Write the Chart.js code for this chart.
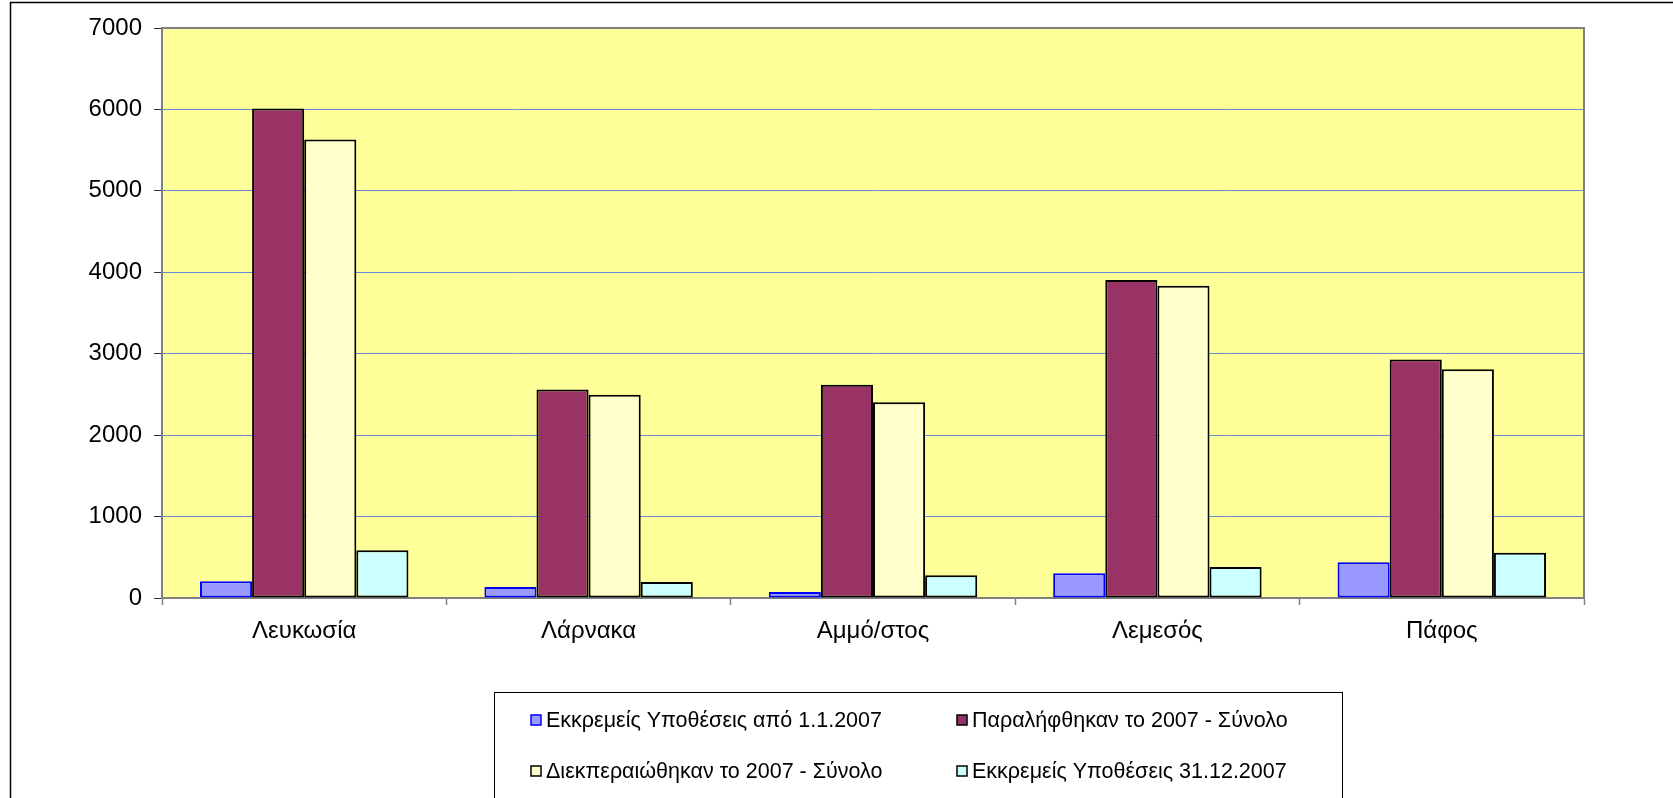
<!DOCTYPE html>
<html>
<head>
<meta charset="utf-8">
<script src="https://cdn.jsdelivr.net/npm/chart.js@4"></script>
<style>
  body { margin: 0; background: #fff; }
</style>
</head>
<body>
<canvas id="myChart" width="1673" height="798"></canvas>
<script>
// Κατηγορίες (επαρχίες)
const categories = ['Λευκωσία', 'Λάρνακα', 'Αμμό/στος', 'Λεμεσός', 'Πάφος'];

// Σειρές δεδομένων
const seriesNames = [
    'Εκκρεμείς Υποθέσεις από 1.1.2007',
    'Παραλήφθηκαν το 2007 - Σύνολο',
    'Διεκπεραιώθηκαν το 2007 - Σύνολο',
    'Εκκρεμείς Υποθέσεις 31.12.2007'
];
const pendingStart = [205, 135, 75, 305, 440];
const received = [6010, 2560, 2620, 3905, 2930];
const completed = [5630, 2495, 2405, 3835, 2810];
const pendingEnd = [585, 195, 280, 380, 555];

const FONT = "'Liberation Sans', Arial, sans-serif";

// Κίτρινο φόντο στην περιοχή σχεδίασης + πλαίσια
const plotBackground = {
    id: 'plotBackground',
    beforeDraw(chart) {
        const { ctx, chartArea: a } = chart;
        ctx.save();
        ctx.fillStyle = '#FFFF99';
        ctx.fillRect(a.left, a.top, a.right - a.left, a.bottom - a.top);
        ctx.restore();
    },
    afterDraw(chart) {
        const { ctx, chartArea: a } = chart;
        ctx.save();
        // γκρι περίγραμμα πάνω / δεξιά
        ctx.strokeStyle = '#808080';
        ctx.lineWidth = 2;
        ctx.beginPath();
        ctx.moveTo(a.left, a.top);
        ctx.lineTo(a.right, a.top);
        ctx.lineTo(a.right, a.bottom);
        ctx.stroke();
        // εξωτερικό πλαίσιο
        ctx.strokeStyle = '#000';
        ctx.lineWidth = 1.5;
        ctx.strokeRect(10.5, 2.5, chart.width + 20, chart.height + 20);
        ctx.restore();
    }
};

// Υπόμνημα σε δύο στήλες μέσα σε πλαίσιο
const boxLegend = {
    id: 'boxLegend',
    afterDraw(chart) {
        const { ctx } = chart;
        ctx.save();
        ctx.strokeStyle = '#000';
        ctx.lineWidth = 1;
        ctx.strokeRect(494.5, 692.5, 848, 200);

        const cols = [531, 957];
        const rows = [720, 771];
        chart.data.datasets.forEach((ds, i) => {
            const x = cols[i % 2];
            const y = rows[Math.floor(i / 2)];
            ctx.fillStyle = ds.backgroundColor;
            ctx.fillRect(x, y - 5, 10, 10);
            ctx.strokeStyle = ds.borderColor;
            ctx.lineWidth = 1.5;
            ctx.strokeRect(x, y - 5, 10, 10);

            ctx.fillStyle = '#000';
            ctx.font = '21.5px ' + FONT;
            ctx.textBaseline = 'middle';
            ctx.textAlign = 'left';
            ctx.fillText(ds.label, x + 15, y + 1);
        });
        ctx.restore();
    }
};

const barStyle = {
    borderWidth: 2,
    borderSkipped: false,
    barPercentage: 1,
    categoryPercentage: 0.733
};

const ctx = document.getElementById('myChart').getContext('2d');
const myChart = new Chart(ctx, {
    type: 'bar',
    data: {
        labels: categories,
        datasets: [
            { label: seriesNames[0], data: pendingStart, backgroundColor: '#9999FF', borderColor: '#0000FF', ...barStyle },
            { label: seriesNames[1], data: received, backgroundColor: '#993366', borderColor: '#000000', ...barStyle },
            { label: seriesNames[2], data: completed, backgroundColor: '#FFFFCC', borderColor: '#000000', ...barStyle },
            { label: seriesNames[3], data: pendingEnd, backgroundColor: '#CCFFFF', borderColor: '#000000', ...barStyle }
        ]
    },
    options: {
        responsive: false,
        animation: false,
        layout: {
            padding: { left: 0, top: 28, right: 89, bottom: 140 }
        },
        scales: {
            x: {
                afterFit: scale => { scale.height = 60; },
                grid: {
                    drawOnChartArea: false,
                    tickLength: 7,
                    tickColor: '#808080',
                    tickWidth: 1.5
                },
                border: { color: '#808080', width: 2 },
                ticks: {
                    padding: 12,
                    color: '#000',
                    font: { family: FONT, size: 24 }
                }
            },
            y: {
                min: 0,
                max: 7000,
                afterFit: scale => { scale.width = 162; },
                grid: {
                    color: '#6A8BD8',
                    lineWidth: 1,
                    tickLength: 8,
                    tickColor: '#333'
                },
                border: { color: '#808080', width: 2 },
                ticks: {
                    stepSize: 1000,
                    padding: 12,
                    color: '#000',
                    font: { family: FONT, size: 24 },
                    callback: value => String(value)
                }
            }
        },
        plugins: {
            legend: { display: false },
            tooltip: { enabled: false }
        }
    },
    plugins: [plotBackground, boxLegend]
});
</script>
</body>
</html>
